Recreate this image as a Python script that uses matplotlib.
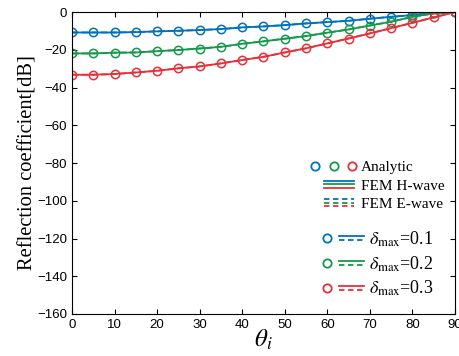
#!/usr/bin/python3

# Reflection coefficient vs incidence angle for three delta_max values.
# Analytic points (circles) with FEM H-wave (solid) and E-wave (dashed) curves.

import matplotlib
matplotlib.use("Agg")
import matplotlib.pyplot as plt
from matplotlib.lines import Line2D
from matplotlib.legend_handler import HandlerBase

theta = [0, 5, 10, 15, 20, 25, 30, 35, 40, 45, 50, 55, 60, 65, 70, 75, 80, 85, 90]

refl_01 = [-10.8, -10.8, -10.8, -10.6, -10.2, -9.9, -9.5, -9.0, -8.1, -7.6,
           -6.9, -6.0, -5.3, -4.6, -3.5, -2.5, -1.6, -0.4, 0.0]
refl_02 = [-21.9, -21.9, -21.5, -21.4, -20.7, -20.1, -19.3, -18.4, -16.8, -15.5,
           -14.1, -12.7, -10.9, -9.2, -7.1, -5.1, -2.5, -0.7, 0.0]
refl_03 = [-33.2, -33.2, -32.8, -32.0, -31.1, -29.8, -28.8, -27.2, -25.4, -23.7,
           -21.4, -19.2, -16.6, -14.0, -11.3, -8.5, -5.7, -2.8, 0.0]

series = [refl_01, refl_02, refl_03]
deltas = ["0.1", "0.2", "0.3"]
colors = ["#0072BD", "#16994A", "#E8303A"]

plt.rcParams["mathtext.fontset"] = "stix"

MS = 6.0   # marker size (pt)
LW = 1.3


class HandlerCircles(HandlerBase):
    """Three open circles side by side."""
    def create_artists(self, legend, orig_handle, xdescent, ydescent,
                       width, height, fontsize, trans):
        y = height / 2 - ydescent
        arts = []
        for i, c in enumerate(colors):
            m = Line2D([width - 1.5 - 13.3 * (2 - i)], [y], marker="o",
                       ms=MS, mfc="none", mec=c, mew=1.3, ls="none")
            m.set_transform(trans)
            arts.append(m)
        return arts


class HandlerStack(HandlerBase):
    """Three coloured lines stacked on top of each other."""
    def __init__(self, ls):
        super().__init__()
        self.ls = ls

    def create_artists(self, legend, orig_handle, xdescent, ydescent,
                       width, height, fontsize, trans):
        y = height / 2 - ydescent
        arts = []
        for i, c in enumerate(colors):
            yy = y + 2.7 * (1 - i)
            l = Line2D([0, width], [yy, yy], color=c, lw=LW)
            if self.ls == "--":
                l.set_dashes([3, 2])
            l.set_transform(trans)
            arts.append(l)
        return arts


class HandlerDelta(HandlerBase):
    """Circle followed by a solid and a dashed line of one colour."""
    def __init__(self, color):
        super().__init__()
        self.color = color

    def create_artists(self, legend, orig_handle, xdescent, ydescent,
                       width, height, fontsize, trans):
        y = height / 2 - ydescent
        m = Line2D([5.0], [y], marker="o", ms=MS, mfc="none",
                   mec=self.color, mew=1.3, ls="none")
        l1 = Line2D([13.0, width], [y + 1.6, y + 1.6], color=self.color, lw=LW)
        l2 = Line2D([13.0, width], [y - 1.6, y - 1.6], color=self.color, lw=LW)
        l2.set_dashes([3, 2])
        for a in (m, l1, l2):
            a.set_transform(trans)
        return [m, l1, l2]


fig = plt.figure(figsize=(4.6, 3.56), dpi=100)
ax = fig.add_axes([0.1565, 0.118, 0.8325, 0.848])

for vals, c in zip(series, colors):
    ax.plot(theta, vals, color=c, lw=LW)
    ax.plot(theta, vals, color=c, lw=LW, ls="--")
    ax.plot(theta, vals, ls="none", marker="o", ms=MS, mfc="none",
            mec=c, mew=1.1)

ax.set_xlim(0, 90)
ax.set_ylim(-160, 0)
ax.set_xticks(range(0, 91, 10))
ax.set_yticks(range(-160, 1, 20))
ax.tick_params(direction="in", top=True, right=True, labelsize=9.5,
               length=3.5, width=0.8)
for lab in ax.get_xticklabels() + ax.get_yticklabels():
    lab.set_family("Liberation Sans")
for s in ax.spines.values():
    s.set_linewidth(0.8)

ax.set_xlabel(r"$\theta_i$", fontsize=18, labelpad=-2)
ax.set_ylabel("Reflection coefficient[dB]", family="Liberation Serif",
              fontsize=14.8, labelpad=0)

# legend 1: what the marks mean
h1 = [object(), object(), object()]
leg1 = ax.legend(h1, ["Analytic", "FEM H-wave", "FEM E-wave"],
                 handler_map={h1[0]: HandlerCircles(),
                              h1[1]: HandlerStack("-"),
                              h1[2]: HandlerStack("--")},
                 loc="upper right", bbox_to_anchor=(0.973, 0.508),
                 frameon=False, borderpad=0, borderaxespad=0,
                 handlelength=1.96, handletextpad=0.45, labelspacing=0.3,
                 prop={"family": "Liberation Serif", "size": 11})
ax.add_artist(leg1)

# legend 2: delta_max values
h2 = [object(), object(), object()]
labels2 = [r"$\delta_{\rm max}$=" + d for d in deltas]
ax.legend(h2, labels2,
          handler_map={h: HandlerDelta(c) for h, c in zip(h2, colors)},
          loc="upper right", bbox_to_anchor=(0.945, 0.28),
          frameon=False, borderpad=0, borderaxespad=0,
          handlelength=2.4, handletextpad=0.3, labelspacing=0.3,
          prop={"family": "Liberation Serif", "size": 13})

fig.savefig("out.png", dpi=100)
